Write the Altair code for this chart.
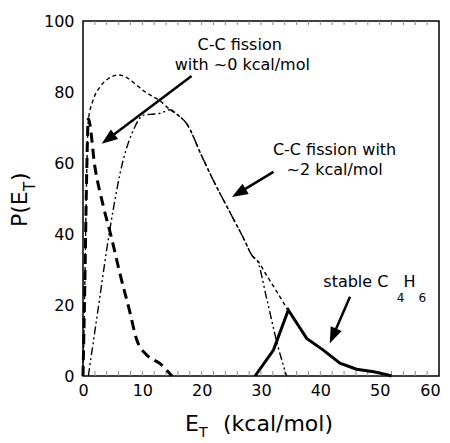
import math
import altair as alt
import pandas as pd

FONT = "DejaVu Sans"

# ---- data ----
fast_x = [0, 0.3, 0.6, 0.9, 2.0, 3.4, 4.8, 6.2, 7.9, 9.0, 10.7, 12.0, 13.0, 14.0, 15.0]
fast_y = [0, 25, 55, 72.5, 59, 48, 39, 29, 18, 10.5, 6, 4.5, 3.5, 1.8, 0]

slow_x = [0.9, 2.6, 4.5, 6.8, 8.5, 10.2, 12.0, 13.0, 14.7, 16.0, 17.5, 20.0, 22.0, 24.8, 27.0, 28.7, 29.3, 31.0, 32.6, 34.3]
slow_y = [0, 19.5, 41, 61, 69.3, 73.5, 73.8, 74, 75, 73.5, 71, 62, 55, 46, 39, 33.5, 32.7, 21.5, 10, 0]

sum_x = [0, 0.3, 0.6, 0.9, 1.7, 2.9, 4.3, 6.0, 7.6, 9.0, 10.5, 12.0, 13.0, 14.0, 14.7, 16.0, 17.5, 20.0, 22.0, 24.8, 27.0, 28.7, 29.3, 31.0, 32.5, 34.5]
sum_y = [0, 25, 55, 72, 77.7, 81.5, 83.8, 84.8, 83.8, 82, 80, 78.5, 77.5, 76, 75, 73.5, 71, 62, 55, 46, 39, 33.5, 32.7, 28.2, 24.2, 18.6]

stable_x = [29.0, 32.1, 34.6, 37.7, 40.5, 43.3, 46.1, 49.0, 51.2, 52.0]
stable_y = [0, 7.3, 18.6, 10.6, 7.3, 3.6, 1.9, 1.2, 0.4, 0]

x_tick_values = [0, 10, 20, 30, 40, 50, 60]
y_tick_values = [0, 20, 40, 60, 80, 100]
minor_ticks = list(range(2, 60, 2))

# annotation texts (data coordinates)
center_text = ["C-C fission", "with ~0 kcal/mol", "C-C fission with", "~2 kcal/mol"]
center_x = [26.4, 26.85, 42.4, 42.4]
center_y = [91.8, 86.2, 62.3, 56.6]

left_text = ["stable C", "H"]
left_x = [40.5, 54.0]
left_y = [25.2, 25.2]

sub_text = ["4", "6"]
sub_x = [52.9, 56.55]
sub_y = [20.9, 20.9]

# arrows: start -> tip (data coordinates)
arrow_x1 = [18.3, 32.1, 45.0]
arrow_y1 = [84.5, 57.5, 22.3]
arrow_x2 = [3.15, 25.1, 41.6]
arrow_y2 = [65.4, 50.4, 9.2]

# ---- layout ----
W, H = 356, 355
SX, SY = W / 60.0, H / 100.0
HEAD_LEN = 16

ax_rows = []
for x1, y1, x2, y2 in zip(arrow_x1, arrow_y1, arrow_x2, arrow_y2):
    dxp = (x2 - x1) * SX
    dyp = -(y2 - y1) * SY
    L = math.hypot(dxp, dyp)
    ang = math.degrees(math.atan2(dxp, -dyp)) % 360
    back = HEAD_LEN * 0.8
    xe = x2 - dxp / L * back / SX
    ye = y2 + dyp / L * back / SY
    ax_rows.append(dict(x1=x1, y1=y1, xe=xe, ye=ye, x2=x2, y2=y2, ang=ang))
arrows = pd.DataFrame(ax_rows)

xs = alt.Scale(domain=[0, 60], nice=False, zero=False)
ys = alt.Scale(domain=[0, 100], nice=False)
xaxis = alt.Axis(values=x_tick_values, title=None, ticks=False, tickSize=0, domain=False,
                 grid=False, labelPadding=6, labelFlush=False,
                 labelOffset={"condition": {"test": "datum.value == 60", "value": -9}, "value": 0})
yaxis = alt.Axis(values=y_tick_values, title=None, ticks=False, tickSize=0, domain=False,
                 grid=False, labelPadding=9)


def X(f="x"):
    return alt.X(f + ":Q", scale=xs, axis=xaxis)


def Y(f="y"):
    return alt.Y(f + ":Q", scale=ys, axis=yaxis)


def line(xv, yv, **kw):
    df = pd.DataFrame({"x": xv, "y": yv, "i": range(len(xv))})
    return alt.Chart(df).mark_line(color="black", **kw).encode(
        x=X(), y=Y(), order="i:Q")


sum_line = line(sum_x, sum_y, strokeWidth=1.4, strokeDash=[4, 3], interpolate="monotone")
slow_line = line(slow_x, slow_y, strokeWidth=1.4, strokeDash=[8, 3, 2, 3, 2, 3], interpolate="monotone")
fast_line = line(fast_x, fast_y, strokeWidth=3, strokeDash=[10, 6], interpolate="monotone")
stable_line = line(stable_x, stable_y, strokeWidth=3)

tick_df = pd.DataFrame({"x": minor_ticks})
ticks_bottom = alt.Chart(tick_df).mark_rule(color="#888888", strokeWidth=1).encode(
    x=X(), y=alt.value(H), y2=alt.value(H - 5))
ticks_top = alt.Chart(tick_df).mark_rule(color="#888888", strokeWidth=1).encode(
    x=X(), y=alt.value(0), y2=alt.value(4))

ctext = alt.Chart(pd.DataFrame({"x": center_x, "y": center_y, "t": center_text})).mark_text(
    font=FONT, fontSize=16, align="center", baseline="alphabetic", color="black").encode(
    x=X(), y=Y(), text="t:N")
ltext = alt.Chart(pd.DataFrame({"x": left_x, "y": left_y, "t": left_text})).mark_text(
    font=FONT, fontSize=16, align="left", baseline="alphabetic", color="black").encode(
    x=X(), y=Y(), text="t:N")
stext = alt.Chart(pd.DataFrame({"x": sub_x, "y": sub_y, "t": sub_text})).mark_text(
    font=FONT, fontSize=12, align="left", baseline="alphabetic", color="black").encode(
    x=X(), y=Y(), text="t:N")

shafts = alt.Chart(arrows).mark_rule(color="black", strokeWidth=2.5).encode(
    x=X("x1"), y=Y("y1"), x2="xe:Q", y2="ye:Q")
HEAD = "M0,0L0.375,1L-0.375,1Z"
heads = alt.Chart(arrows).mark_point(shape=HEAD, filled=True, color="black", opacity=1,
                                     size=(2 * HEAD_LEN) ** 2, strokeWidth=0).encode(
    x=X("x2"), y=Y("y2"), angle=alt.Angle("ang:Q", scale=None))

# axis titles with subscripts (pixel positions relative to the plot area)
def ptext(t, px, py, size, **kw):
    return alt.Chart(pd.DataFrame({"t": [t]})).mark_text(
        font=FONT, fontSize=size, color="black", baseline="alphabetic", **kw).encode(
        x=alt.value(px), y=alt.value(py), text="t:N")

xt1 = ptext("E", 102, 410, 22, align="left")
xt2 = ptext("T", 116, 416, 14, align="left")
xt3 = ptext("(kcal/mol)", 140, 410, 22, align="left")

yt1 = ptext("P(E", -56, 206, 22, align="left", angle=270)
yt2 = ptext("T", -48, 170, 15, align="left", angle=270)
yt3 = ptext(")", -56, 160, 22, align="left", angle=270)

chart = alt.layer(
    ticks_bottom, ticks_top,
    sum_line, slow_line, fast_line, stable_line,
    shafts, heads, ctext, ltext, stext,
    xt1, xt2, xt3, yt1, yt2, yt3,
).properties(
    width=W, height=H,
    autosize=alt.AutoSizeParams(type="none"),
    padding={"left": 75, "top": 13, "right": 3, "bottom": 64},
).configure_view(
    stroke="black", strokeWidth=1.5
).configure_axis(
    labelFont=FONT, labelFontSize=16, labelColor="black"
)

chart.save("out.html", embed_options={"renderer": "svg", "actions": False})
